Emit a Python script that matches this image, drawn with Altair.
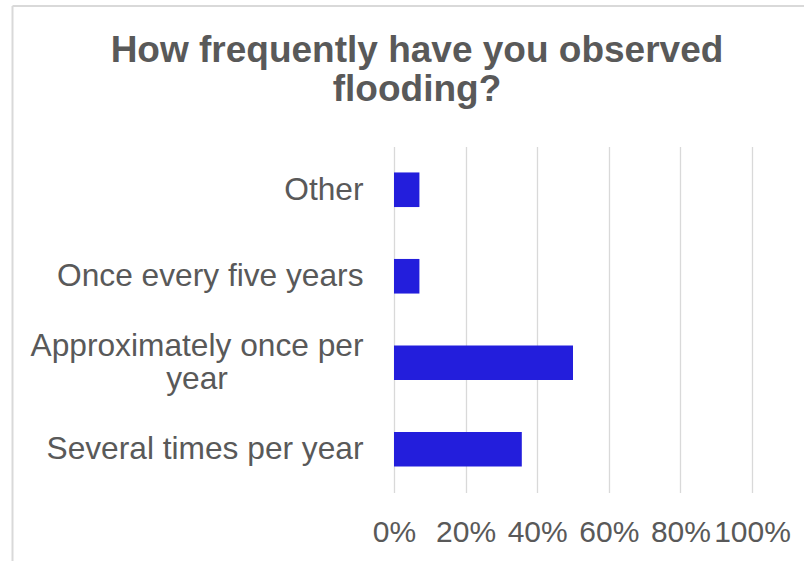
import altair as alt
import pandas as pd

# Survey responses (share of respondents), top to bottom
categories = [
    "Other",
    "Once every five years",
    "Approximately once per\nyear",
    "Several times per year",
]
shares = [0.071, 0.071, 0.50, 0.357]
tick_values = [0, 0.2, 0.4, 0.6, 0.8, 1.0]
title_lines = ["How frequently have you observed", "flooding?"]

TEXT_GREY = "#595959"
GRID_GREY = "#d9d9d9"
BAR_BLUE = "#231edc"
FONT = "Liberation Sans"

# Plot-area geometry (pixels)
PAD_LEFT, PAD_TOP = 394, 146.5
PLOT_W, PLOT_H = 358, 346
FULL_W, FULL_H = 804, 561

LABEL_SIZE = 31.7
LABEL_LINE = 33

df = pd.DataFrame({"category": categories, "share": shares})
one_row = pd.DataFrame({"k": [0]})

y_enc = alt.Y(
    "category:N",
    sort=categories,
    scale=alt.Scale(paddingInner=0.6, paddingOuter=0.3),
    axis=None,
)

bars = alt.Chart(df).mark_bar(color=BAR_BLUE).encode(
    x=alt.X(
        "share:Q",
        scale=alt.Scale(domain=[0, 1]),
        axis=alt.Axis(
            values=tick_values,
            format="%",
            title=None,
            grid=True,
            gridColor=GRID_GREY,
            gridWidth=1.3,
            domain=False,
            ticks=False,
            labelFont=FONT,
            labelFontSize=30,
            labelColor=TEXT_GREY,
            labelPadding=24.5,
            labelFlush=False,
            labelOverlap=False,
        ),
    ),
    y=y_enc,
)

# Category labels: single-line ones right-aligned, the wrapped one centred
label_style = dict(
    baseline="middle", fontSize=LABEL_SIZE, font=FONT, color=TEXT_GREY,
    lineBreak="\n", lineHeight=LABEL_LINE,
)
single_labels = (
    alt.Chart(df)
    .transform_filter("indexof(datum.category, '\\n') < 0")
    .mark_text(align="right", **label_style)
    .encode(y=y_enc, x=alt.value(-30.5), text="category:N")
)
# two-line label: shift up half a line so the block sits centred on its band
wrapped_labels = (
    alt.Chart(df)
    .transform_filter("indexof(datum.category, '\\n') >= 0")
    .mark_text(align="center", dy=-LABEL_LINE / 2, **label_style)
    .encode(y=y_enc, x=alt.value(197 - PAD_LEFT), text="category:N")
)

title = alt.Chart(one_row).mark_text(
    align="center",
    baseline="alphabetic",
    fontSize=37,
    fontWeight="bold",
    font=FONT,
    color=TEXT_GREY,
    lineHeight=39,
).encode(
    x=alt.value(417 - PAD_LEFT),
    y=alt.value(61.7 - PAD_TOP),
    text=alt.value(title_lines),
)

# Light frame around the chart
frame_top = alt.Chart(one_row).mark_rule(color=GRID_GREY, strokeWidth=2).encode(
    x=alt.value(12.5 - PAD_LEFT),
    x2=alt.value(FULL_W - PAD_LEFT),
    y=alt.value(6 - PAD_TOP),
)
frame_left = alt.Chart(one_row).mark_rule(color=GRID_GREY, strokeWidth=2).encode(
    x=alt.value(12.5 - PAD_LEFT),
    y=alt.value(6 - PAD_TOP),
    y2=alt.value(FULL_H - PAD_TOP),
)

chart = (
    alt.layer(frame_top, frame_left, bars, single_labels, wrapped_labels, title)
    .properties(
        width=PLOT_W,
        height=PLOT_H,
        autosize=alt.AutoSizeParams(type="none"),
        padding={
            "left": PAD_LEFT,
            "top": PAD_TOP,
            "right": FULL_W - PAD_LEFT - PLOT_W,
            "bottom": FULL_H - PAD_TOP - PLOT_H,
        },
        background="white",
    )
    .configure_view(stroke=None)
)

chart.save("out.html", embed_options={"renderer": "svg", "actions": False})
